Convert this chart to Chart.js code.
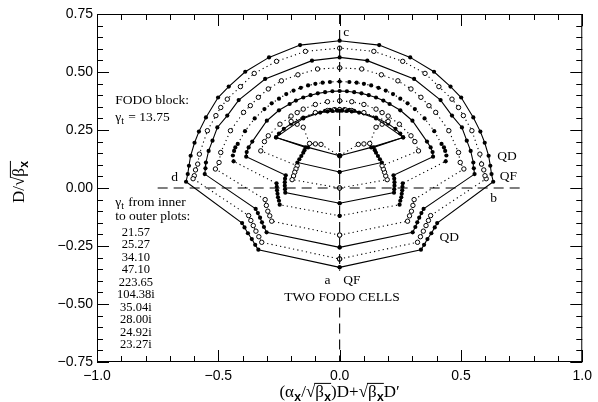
<!DOCTYPE html>
<html>
<head>
<meta charset="utf-8">
<script src="https://cdn.jsdelivr.net/npm/chart.js@4.4.0/dist/chart.umd.min.js"></script>
<style>
  html, body { margin: 0; padding: 0; background: #fff; }
</style>
</head>
<body>
<canvas id="fodo-chart" width="598" height="402"></canvas>
<script>
// gamma_t of each plot, inner to outer
const gammaLabels = ['21.57', '25.27', '34.10', '47.10', '223.65', '104.38i', '35.04i', '28.00i', '24.92i', '23.27i'];

// right half of each closed plot, from point a (x = 0, bottom) round to point c (x = 0, top)
const g21_57 = [[0, 0.139], [0.13, 0.175], [0.262, 0.218], [0.15, 0.300], [0.08, 0.325], [0.05, 0.330], [0.03, 0.332], [0.01, 0.333], [0, 0.333]];
const g25_27 = [[0, 0.139], [0.077, 0.188], [0.10, 0.190], [0.124, 0.192], [0.15, 0.262], [0.175, 0.275], [0.20, 0.287], [0.10, 0.325], [0.05, 0.334], [0.025, 0.336], [0, 0.337]];
const g34_10 = [[0, 0.069], [0.174, 0.110], [0.166, 0.124], [0.158, 0.138], [0.150, 0.152], [0.145, 0.163], [0.140, 0.175], [0.262, 0.218], [0.25, 0.235], [0.23, 0.255], [0.20, 0.277], [0.15, 0.303], [0.10, 0.322], [0.06, 0.333], [0.04, 0.337], [0.02, 0.340], [0, 0.341]];
const g47_10 = [[0, 0.0], [0.196, 0.036], [0.190, 0.052], [0.185, 0.068], [0.180, 0.082], [0.175, 0.096], [0.325, 0.160], [0.31, 0.200], [0.294, 0.225], [0.246, 0.275], [0.20, 0.310], [0.175, 0.325], [0.15, 0.340], [0.10, 0.360], [0.05, 0.372], [0, 0.376]];
const g223_65 = [[0, -0.066], [0.224, -0.020], [0.225, -0.005], [0.226, 0.010], [0.226, 0.025], [0.225, 0.040], [0.222, 0.055], [0.385, 0.135], [0.383, 0.155], [0.375, 0.175], [0.36, 0.200], [0.30, 0.290], [0.25, 0.335], [0.206, 0.362], [0.18, 0.377], [0.15, 0.390], [0.12, 0.400], [0.09, 0.408], [0.06, 0.413], [0.03, 0.417], [0, 0.418]];
const g104_38i = [[0, -0.120], [0.247, -0.072], [0.250, -0.055], [0.254, -0.040], [0.256, -0.025], [0.258, -0.010], [0.259, 0.005], [0.260, 0.020], [0.437, 0.115], [0.44, 0.140], [0.435, 0.160], [0.43, 0.175], [0.42, 0.190], [0.39, 0.245], [0.35, 0.300], [0.31, 0.340], [0.28, 0.365], [0.25, 0.385], [0.22, 0.405], [0.19, 0.420], [0.16, 0.432], [0.13, 0.442], [0.10, 0.449], [0.07, 0.454], [0.04, 0.457], [0, 0.459]];
const g35_04i = [[0, -0.203], [0.280, -0.143], [0.288, -0.120], [0.296, -0.100], [0.302, -0.075], [0.307, -0.050], [0.512, 0.082], [0.497, 0.110], [0.49, 0.153], [0.45, 0.247], [0.396, 0.326], [0.368, 0.355], [0.335, 0.391], [0.294, 0.427], [0.24, 0.462], [0.172, 0.488], [0.091, 0.513], [0, 0.518]];
const g28_00i = [[0, -0.256], [0.301, -0.191], [0.312, -0.168], [0.320, -0.148], [0.328, -0.128], [0.337, -0.108], [0.346, -0.090], [0.556, 0.060], [0.553, 0.085], [0.551, 0.110], [0.54, 0.160], [0.524, 0.204], [0.504, 0.261], [0.463, 0.312], [0.416, 0.379], [0.307, 0.470], [0.114, 0.549], [0, 0.563]];
const g24_92i = [[0, -0.306], [0.321, -0.234], [0.333, -0.210], [0.345, -0.186], [0.356, -0.162], [0.366, -0.140], [0.375, -0.119], [0.604, 0.040], [0.599, 0.053], [0.594, 0.078], [0.585, 0.103], [0.578, 0.146], [0.545, 0.247], [0.51, 0.312], [0.49, 0.347], [0.463, 0.383], [0.409, 0.437], [0.352, 0.494], [0.26, 0.546], [0.141, 0.589], [0, 0.603]];
const g23_27i = [[0, -0.342], [0.335, -0.266], [0.348, -0.245], [0.362, -0.220], [0.378, -0.195], [0.392, -0.170], [0.402, -0.151], [0.633, 0.027], [0.626, 0.060], [0.621, 0.096], [0.614, 0.139], [0.598, 0.195], [0.58, 0.243], [0.551, 0.304], [0.501, 0.390], [0.457, 0.437], [0.389, 0.501], [0.291, 0.563], [0.163, 0.616], [0, 0.635]];

const halfCurves = [g21_57, g25_27, g34_10, g47_10, g223_65, g104_38i, g35_04i, g28_00i, g24_92i, g23_27i];
// line kind per plot: 'solid' filled dots, 'dotted' open circles, 'heavy' dotted line with filled dots
const curveKinds = ['solid', 'dotted', 'solid', 'dotted', 'solid', 'heavy', 'dotted', 'solid', 'dotted', 'solid'];

// dashed reference lines
const zeroLineX = [-0.75, 0.75];
const centreLineUpper = [0.75, -0.357];
const centreLineLower = [-0.515, -0.75];

const xTicks = [-1.0, -0.5, 0.0, 0.5, 1.0];
const yTicks = [-0.75, -0.50, -0.25, 0.00, 0.25, 0.50, 0.75];

// the plots are mirror symmetric about x = 0: close each loop through the left half
const closedLoop = (half) => {
    const left = half.slice(0, -1).reverse().map(([x, y]) => [-x, y]);
    return half.concat(left).map(([x, y]) => ({ x: x, y: y }));
};

const curveSets = halfCurves.map((half, i) => {
    const kind = curveKinds[i];
    const open = kind === 'dotted';
    return {
        label: gammaLabels[i],
        data: closedLoop(half),
        showLine: true,
        borderColor: '#000',
        borderWidth: 1.1,
        borderDash: kind === 'solid' ? [] : [1.2, 3.2],
        pointRadius: open ? 2.2 : 2.1,
        pointBackgroundColor: open ? '#fff' : '#000',
        pointBorderColor: '#000',
        pointBorderWidth: open ? 1 : 0,
        order: i
    };
});

const dashedSet = (pts) => ({
    data: pts,
    showLine: true,
    borderColor: '#000',
    borderWidth: 1.1,
    borderDash: [10, 6],
    pointRadius: 0
});

const refSets = [
    dashedSet(zeroLineX.map(x => ({ x: x, y: 0 }))),
    dashedSet(centreLineUpper.map(y => ({ x: 0, y: y }))),
    dashedSet(centreLineLower.map(y => ({ x: 0, y: y })))
];

const serif = '"Liberation Serif", "DejaVu Serif", serif';

// text with subscripts and square-root bars
const drawRich = (ctx, parts, cx, baseY, size) => {
    const mainFont = size + 'px ' + serif;
    const subFont = 'bold ' + Math.round(size * 0.7) + 'px "Liberation Mono", monospace';
    const isSub = k => k === 'sub' || k === 'subover';
    const widths = parts.map(([t, k]) => {
        ctx.font = isSub(k) ? subFont : mainFont;
        return ctx.measureText(t).width;
    });
    const total = widths.reduce((s, w) => s + w, 0);
    let px = cx - total / 2;
    let overStart = null, overEnd = null;
    const flush = () => {
        if (overStart === null) return;
        ctx.beginPath();
        ctx.lineWidth = 1;
        ctx.moveTo(overStart - 1, baseY - size * 0.8);
        ctx.lineTo(overEnd, baseY - size * 0.8);
        ctx.stroke();
        overStart = null;
    };
    ctx.textAlign = 'left';
    ctx.textBaseline = 'alphabetic';
    parts.forEach(([t, k], i) => {
        ctx.font = isSub(k) ? subFont : mainFont;
        ctx.fillText(t, px, baseY + (isSub(k) ? size * 0.25 : 0));
        if (k === 'over' || k === 'subover') {
            if (overStart === null) overStart = px;
            overEnd = px + widths[i];
        } else {
            flush();
        }
        px += widths[i];
    });
    flush();
    return total;
};

const drawGammaT = (ctx, x, y, rest, size) => {
    ctx.textAlign = 'left';
    ctx.textBaseline = 'middle';
    ctx.font = size + 'px ' + serif;
    ctx.fillText('\u03b3', x, y);
    const w = ctx.measureText('\u03b3').width;
    ctx.font = Math.round(size * 0.72) + 'px ' + serif;
    ctx.fillText('t', x + w, y + size * 0.3);
    const w2 = ctx.measureText('t').width;
    ctx.font = size + 'px ' + serif;
    ctx.fillText(rest, x + w + w2 + 1, y);
};

const annotations = [
    { text: 'c', x: 0.015, y: 0.67, align: 'left' },
    { text: 'd', x: -0.68, y: 0.047, align: 'center' },
    { text: 'b', x: 0.635, y: -0.044, align: 'center' },
    { text: 'QD', x: 0.65, y: 0.135, align: 'left' },
    { text: 'QF', x: 0.66, y: 0.048, align: 'left' },
    { text: 'QD', x: 0.412, y: -0.212, align: 'left' },
    { text: 'a', x: -0.05, y: -0.40, align: 'center' },
    { text: 'QF', x: 0.05, y: -0.40, align: 'center' },
    { text: 'TWO FODO CELLS', x: 0.01, y: -0.472, align: 'center' },
    { text: 'FODO block:', x: -0.925, y: 0.376, align: 'left' },
    { text: 'to outer plots:', x: -0.925, y: -0.124, align: 'left' }
];

const frameAndText = {
    id: 'frameAndText',
    afterDraw(chart) {
        const { ctx, chartArea: area, scales: { x, y } } = chart;
        ctx.save();
        ctx.strokeStyle = '#000';
        ctx.fillStyle = '#000';
        ctx.lineWidth = 1;
        ctx.strokeRect(area.left + 0.5, area.top + 0.5, area.right - area.left - 1, area.bottom - area.top - 1);

        // inward ticks on all four sides
        ctx.beginPath();
        for (let i = 0; i <= 20; i++) {
            const px = Math.round(x.getPixelForValue(-1 + i * 0.1)) + 0.5;
            const len = i % 5 === 0 ? 12 : 6;
            ctx.moveTo(px, area.bottom); ctx.lineTo(px, area.bottom - len);
            ctx.moveTo(px, area.top); ctx.lineTo(px, area.top + len);
        }
        for (let i = 0; i <= 30; i++) {
            const py = Math.round(y.getPixelForValue(-0.75 + i * 0.05)) + 0.5;
            const len = i % 5 === 0 ? 12 : 6;
            ctx.moveTo(area.left, py); ctx.lineTo(area.left + len, py);
            ctx.moveTo(area.right, py); ctx.lineTo(area.right - len, py);
        }
        ctx.stroke();

        // annotations
        ctx.font = '13.5px ' + serif;
        ctx.textBaseline = 'middle';
        annotations.forEach(a => {
            ctx.textAlign = a.align;
            ctx.fillText(a.text, x.getPixelForValue(a.x), y.getPixelForValue(a.y));
        });

        const leftX = x.getPixelForValue(-0.925);
        drawGammaT(ctx, leftX, y.getPixelForValue(0.303), ' = 13.75', 13.5);
        drawGammaT(ctx, leftX, y.getPixelForValue(-0.063), ' from inner', 13.5);

        ctx.font = '12.5px ' + serif;
        ctx.textAlign = 'center';
        ctx.textBaseline = 'middle';
        const listX = x.getPixelForValue(-0.84);
        const listTop = y.getPixelForValue(-0.191);
        gammaLabels.forEach((g, i) => {
            ctx.fillText(g, listX, listTop + i * 12.5);
        });

        // axis titles
        drawRich(ctx, [['('], ['\u03b1'], ['x', 'sub'], ['/'], ['\u221a'], ['\u03b2', 'over'], ['x', 'subover'],
            [')D+'], ['\u221a'], ['\u03b2', 'over'], ['x', 'subover'], ['D\u2032']],
            (area.left + area.right) / 2, 397, 17);

        ctx.save();
        ctx.translate(24, (area.top + area.bottom) / 2 - 6);
        ctx.rotate(-Math.PI / 2);
        drawRich(ctx, [['D/'], ['\u221a'], ['\u03b2', 'over'], ['x', 'subover']], 0, 0, 17);
        ctx.restore();

        ctx.restore();
    }
};

const minus = s => s.replace('-', '\u2212');

new Chart(document.getElementById('fodo-chart').getContext('2d'), {
    type: 'scatter',
    data: { datasets: curveSets.concat(refSets) },
    options: {
        responsive: false,
        animation: false,
        devicePixelRatio: 1,
        layout: { padding: { top: 14, right: 9, left: 0, bottom: 0 } },
        plugins: { legend: { display: false }, tooltip: { enabled: false } },
        scales: {
            x: {
                type: 'linear',
                min: -1,
                max: 1,
                afterFit: s => { s.height = 40; },
                afterBuildTicks: s => { s.ticks = xTicks.map(v => ({ value: v })); },
                grid: { display: false, drawTicks: false },
                border: { display: false },
                ticks: {
                    padding: 6,
                    color: '#000',
                    font: { family: '"Liberation Sans", Arial, sans-serif', size: 14 },
                    maxRotation: 0,
                    callback: v => minus(Number(v).toFixed(1))
                }
            },
            y: {
                type: 'linear',
                min: -0.75,
                max: 0.75,
                afterFit: s => { s.width = 97; },
                afterBuildTicks: s => { s.ticks = yTicks.map(v => ({ value: v })); },
                grid: { display: false, drawTicks: false },
                border: { display: false },
                ticks: {
                    padding: 4,
                    color: '#000',
                    font: { family: '"Liberation Sans", Arial, sans-serif', size: 14 },
                    callback: v => minus(Number(v).toFixed(2))
                }
            }
        }
    },
    plugins: [frameAndText]
});
</script>
</body>
</html>
